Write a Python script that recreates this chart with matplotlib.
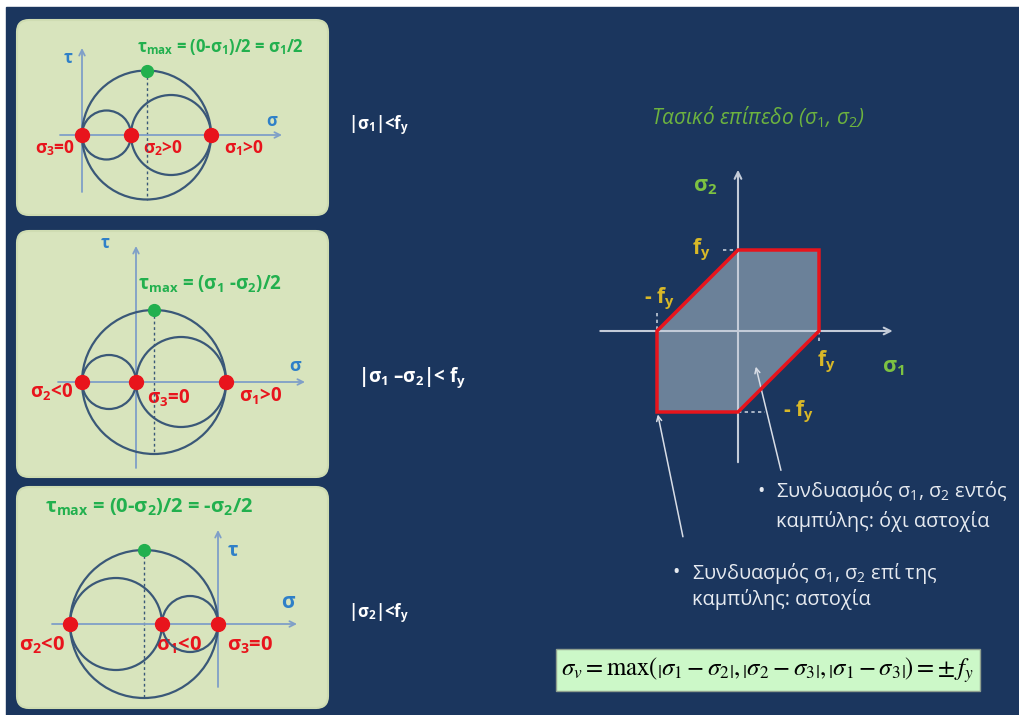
import numpy as np
import matplotlib.pyplot as plt
from matplotlib.patches import Circle, Polygon, FancyBboxPatch, Rectangle

plt.rcParams['font.family'] = ['Open Sans', 'DejaVu Sans']
plt.rcParams['mathtext.fontset'] = 'custom'
plt.rcParams['mathtext.rm'] = 'Open Sans'
plt.rcParams['mathtext.it'] = 'Open Sans:italic'
plt.rcParams['mathtext.bf'] = 'Open Sans:bold'

# principal stresses (sigma1, sigma2, sigma3) for the three Mohr panels
p1_sigma = [2.58, 0.98, 0.0]
p2_sigma = [1.80, -1.08, 0.0]
p3_sigma = [-1.12, -2.96, 0.0]

p1_labels = [r'σ$_\mathbf{1}$>0', r'σ$_\mathbf{2}$>0', r'σ$_\mathbf{3}$=0']
p2_labels = [r'σ$_\mathbf{1}$>0', r'σ$_\mathbf{2}$<0', r'σ$_\mathbf{3}$=0']
p3_labels = [r'σ$_\mathbf{1}$<0', r'σ$_\mathbf{2}$<0', r'σ$_\mathbf{3}$=0']

p1_title = r'τ$_\mathbf{max}$ = (0-σ$_\mathbf{1}$)/2 = σ$_\mathbf{1}$/2'
p2_title = r'τ$_\mathbf{max}$ = (σ$_\mathbf{1}$ -σ$_\mathbf{2}$)/2'
p3_title = r'τ$_\mathbf{max}$ = (0-σ$_\mathbf{2}$)/2 = -σ$_\mathbf{2}$/2'

conditions = [r'|σ$_\mathbf{1}$|<f$_\mathbf{y}$',
              r'|σ$_\mathbf{1}$ –σ$_\mathbf{2}$|< f$_\mathbf{y}$',
              r'|σ$_\mathbf{2}$|<f$_\mathbf{y}$']

# Tresca hexagon in the (sigma1, sigma2) plane, in units of fy
fy = 1.0
hex_s1 = [0, fy, fy, 0, -fy, -fy]
hex_s2 = [fy, fy, 0, -fy, -fy, 0]

NAVY = '#1b365e'
PANEL = '#d8e4bd'
RED = '#e8141c'
GREEN = '#22b04e'
CIRC = '#3a5878'
AXBLUE = '#7f9fc8'
LBLUE = '#2f80c8'
YEL = '#d8b828'
LGREEN = '#7dc242'

W, H = 1019, 715
fig = plt.figure(figsize=(W / 100, H / 100), dpi=100, facecolor='white')

bg = fig.add_axes([0, 0, 1, 1])
bg.set_xlim(0, W)
bg.set_ylim(H, 0)
bg.axis('off')
bg.add_patch(Rectangle((6, 7), W - 6, H - 7, color=NAVY, zorder=0))

for (y0, y1) in [(20, 215), (231, 477), (487, 708)]:
    bg.add_patch(FancyBboxPatch((17, y0), 311, y1 - y0,
                                boxstyle='round,pad=0,rounding_size=12',
                                fc=PANEL, ec='#cfdcb2', lw=1.5, zorder=1))


def px_axes(x0, y0, x1, y1, ox, oy, scale):
    ax = fig.add_axes([x0 / W, 1 - y1 / H, (x1 - x0) / W, (y1 - y0) / H])
    ax.set_xlim((x0 - ox) / scale, (x1 - ox) / scale)
    ax.set_ylim((oy - y1) / scale, (oy - y0) / scale)
    ax.axis('off')
    ax.patch.set_alpha(0)
    return ax


def arrow(ax, p0, p1, color, lw=1.3, ms=10):
    ax.annotate('', xy=p1, xytext=p0,
                arrowprops=dict(arrowstyle='->', color=color, lw=lw,
                                mutation_scale=ms, shrinkA=0, shrinkB=0))


def mohr(ax, sig, s_rng, t_rng):
    s1, s2, s3 = sig
    arrow(ax, (s_rng[0], 0), (s_rng[1], 0), AXBLUE)
    arrow(ax, (0, t_rng[0]), (0, t_rng[1]), AXBLUE)
    for a, b in [(s1, s2), (s2, s3), (s1, s3)]:
        ax.add_patch(Circle(((a + b) / 2, 0), abs(a - b) / 2, fill=False,
                            ec=CIRC, lw=1.6, zorder=3))
    c = (max(sig) + min(sig)) / 2
    r = (max(sig) - min(sig)) / 2
    ax.plot([c, c], [r, -r], ls=(0, (2, 2)), color=CIRC, lw=1, zorder=2)
    ax.plot(sig, [0, 0, 0], 'o', color=RED, ms=10, zorder=5)
    ax.plot([c], [r], 'o', color=GREEN, ms=8.5, zorder=5)


ax1 = px_axes(17, 20, 328, 215, 82, 135, 50)
mohr(ax1, p1_sigma, (-0.44, 4.0), (-1.14, 1.74))
ax2 = px_axes(17, 231, 328, 477, 136, 382, 50)
mohr(ax2, p2_sigma, (-1.56, 3.38), (-1.72, 2.72))
ax3 = px_axes(17, 487, 328, 708, 218, 624, 50)
mohr(ax3, p3_sigma, (-3.32, 1.58), (-1.26, 1.88))

lab = dict(color=RED, fontweight='bold', va='center', ha='center', zorder=4)
# panel 1 labels
bg.text(244, 148, p1_labels[0], fontsize=12.5, **lab)
bg.text(163, 148, p1_labels[1], fontsize=12.5, **lab)
bg.text(55, 148, p1_labels[2], fontsize=12.5, **lab)
# panel 2 labels
bg.text(261, 396, p2_labels[0], fontsize=13.5, **lab)
bg.text(52, 392, p2_labels[1], fontsize=13.5, **lab)
bg.text(169, 398, p2_labels[2], fontsize=13.5, **lab)
# panel 3 labels
bg.text(179, 645, p3_labels[0], fontsize=14.5, **lab)
bg.text(42, 645, p3_labels[1], fontsize=14.5, **lab)
bg.text(250, 645, p3_labels[2], fontsize=14.5, **lab)

ttl = dict(color=GREEN, fontweight='bold', va='center', ha='center', zorder=4)
bg.text(220, 47, p1_title, fontsize=12, **ttl)
bg.text(210, 283, p2_title, fontsize=13.5, **ttl)
bg.text(149, 507, p3_title, fontsize=14.5, **ttl)

ax_lab = dict(color=LBLUE, fontweight='bold', ha='center', va='center', zorder=4)
bg.text(68, 58, 'τ', fontsize=12, **ax_lab)
bg.text(272, 121, 'σ', fontsize=12, **ax_lab)
bg.text(105, 243, 'τ', fontsize=12, **ax_lab)
bg.text(295, 366, 'σ', fontsize=13, **ax_lab)
bg.text(233, 551, 'τ', fontsize=14, **ax_lab)
bg.text(288, 603, 'σ', fontsize=15, **ax_lab)

cond = dict(color='white', fontweight='bold', ha='left', va='center')
bg.text(348, 125, conditions[0], fontsize=12, **cond)
bg.text(358, 378, conditions[1], fontsize=13.5, **cond)
bg.text(348, 613, conditions[2], fontsize=12, **cond)

# stress plane (sigma1, sigma2)
axh = px_axes(560, 140, 1010, 480, 738, 331, 81)
axh.add_patch(Polygon(np.column_stack([hex_s1, hex_s2]), closed=True,
                      fc='#6b8199', ec='none', zorder=1))
arrow(axh, (-1.70, 0), (1.91, 0), '#c3cbd8', lw=1.5, ms=12)
arrow(axh, (0, -1.62), (0, 1.99), '#c3cbd8', lw=1.5, ms=12)
axh.add_patch(Polygon(np.column_stack([hex_s1, hex_s2]), closed=True,
                      fill=False, ec=RED, lw=2.5, zorder=4))
dash = dict(color='#c3cbd8', lw=1.2, ls=(0, (2, 2)), zorder=3)
axh.plot([-0.18, 0.32], [fy, fy], **dash)
axh.plot([-fy, -fy], [0.22, 0], **dash)
axh.plot([fy, fy], [0, -0.15], **dash)
axh.plot([0, 0.33], [-fy, -fy], **dash)

arrow(axh, (-0.68, -2.54), (-0.99, -1.03), '#d8dde6', lw=1.1, ms=9)
arrow(axh, (0.53, -1.72), (0.22, -0.44), '#d8dde6', lw=1.1, ms=9)

fyk = dict(color=YEL, fontsize=15, fontweight='bold', ha='center', va='center')
bg.text(701, 250, r'f$_\mathbf{y}$', **fyk)
bg.text(659, 299, r'- f$_\mathbf{y}$', **fyk)
bg.text(826, 362, r'f$_\mathbf{y}$', **fyk)
bg.text(798, 412, r'- f$_\mathbf{y}$', **fyk)

sk = dict(color=LGREEN, fontsize=15.5, fontweight='bold', ha='center', va='center')
bg.text(705, 187, r'σ$_\mathbf{2}$', **sk)
bg.text(893, 367, r'σ$_\mathbf{1}$', **sk)

bg.text(758, 117, r'Τασικό επίπεδο (σ$_\mathit{1}$, σ$_\mathit{2}$)', color='#6db33f',
        fontsize=15, style='italic', ha='center', va='center')

txt = dict(color='#e6eaf0', fontsize=14.3, ha='left', va='center')
bg.text(757, 492, '•', **txt)
bg.text(776, 492, r'Συνδυασμός σ$_1$, σ$_2$ εντός', **txt)
bg.text(776, 521, 'καμπύλης: όχι αστοχία', **txt)
bg.text(672, 573, '•', **txt)
bg.text(692, 573, r'Συνδυασμός σ$_1$, σ$_2$ επί της', **txt)
bg.text(692, 600, 'καμπύλης: αστοχία', **txt)

bg.add_patch(Rectangle((556, 649), 424, 42, fc='#ccf8c8', ec='#8fa08f', lw=1, zorder=2))
bg.text(767, 670,
        r'$\sigma_v = \max\left(\left|\sigma_1-\sigma_2\right|,\left|\sigma_2-\sigma_3\right|,'
        r'\left|\sigma_1-\sigma_3\right|\right) = \pm\, f_y$',
        math_fontfamily='stix', fontsize=17.8, color='black', ha='center', va='center', zorder=3)

fig.savefig('out.png', dpi=100, facecolor='white')
